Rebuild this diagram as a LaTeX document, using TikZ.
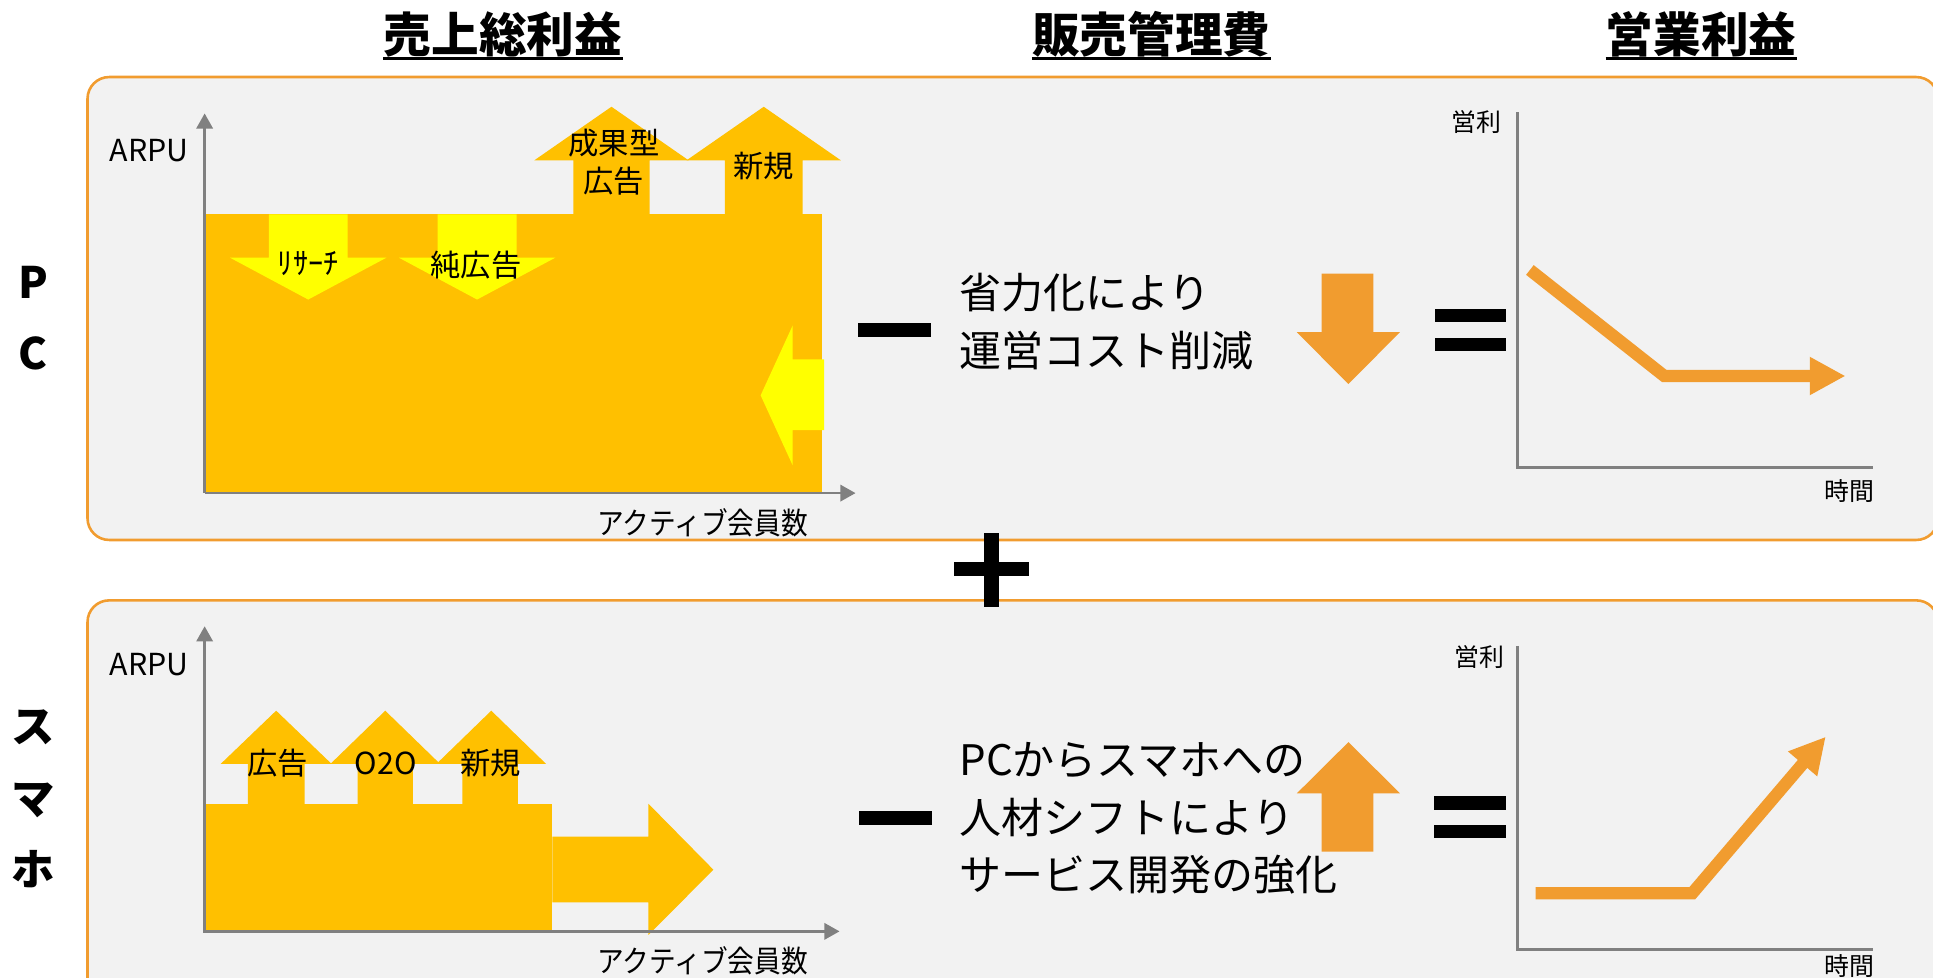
\documentclass[tikz,border=0pt]{standalone}
\usepackage{fontspec}
\setmainfont{Noto Sans CJK JP}
\usetikzlibrary{arrows.meta}

\definecolor{gold}{HTML}{FFC000}
\definecolor{lemon}{HTML}{FFFF00}
\definecolor{orng}{HTML}{F19C2F}
\definecolor{panel}{HTML}{F2F2F2}
\definecolor{axisgray}{HTML}{808080}

\tikzstyle{panelbox} = [draw=orng, fill=panel, line width=1.2pt, rounded corners=10pt]
\tikzstyle{axisline} = [draw=axisgray, line width=1.2pt]
\tikzstyle{axisarrow} = [axisline, -{Triangle[length=7pt,width=7.5pt]}]
\tikzstyle{trend} = [draw=orng, line width=5.7pt, -{Triangle[length=16.5pt,width=16.5pt]}]
\tikzstyle{heading} = [inner sep=0pt, font=\fontsize{22}{26}\selectfont\bfseries]
\tikzstyle{sidelbl} = [inner sep=0pt, align=center, font=\fontsize{20}{33}\selectfont\bfseries]
\tikzstyle{body} = [inner sep=0pt, anchor=west, align=left, font=\fontsize{19.4}{26.5}\selectfont]
\tikzstyle{lbl} = [inner sep=0pt, font=\fontsize{14}{16}\selectfont]
\tikzstyle{narrowlbl} = [lbl, font=\fontsize{14}{16}\selectfont\addfontfeatures{FakeStretch=0.88}]
\tikzstyle{tag} = [inner sep=0pt, font=\fontsize{11.5}{13}\selectfont]
\tikzstyle{uline} = [draw=black, line width=1.2pt]

\begin{document}
\begin{tikzpicture}[x=0.02cm, y=-0.02cm]
		\useasboundingbox (0,0) rectangle (1568,793);
		\clip (0,0) rectangle (1568,793);

		% Ueberschriften
		\node [heading] (ttlgross) at (408,28) {売上総利益};
		\node [heading] (ttlsga) at (934,28) {販売管理費};
		\node [heading] (ttlop) at (1380,28) {営業利益};
		\draw [uline] ([yshift=-0.39cm]ttlgross.west) -- ([yshift=-0.39cm]ttlgross.east);
		\draw [uline] ([yshift=-0.39cm]ttlsga.west) -- ([yshift=-0.39cm]ttlsga.east);
		\draw [uline] ([yshift=-0.39cm]ttlop.west) -- ([yshift=-0.39cm]ttlop.east);

		% Rahmen
		\draw [panelbox] (71,62.5) rectangle (1572,438);
		\draw [panelbox] (71,487) rectangle (1572,840);
		\node [sidelbl] (pc) at (27,258) {P\\C};
		\node [sidelbl] (sp) at (27,648) {ス\\マ\\ホ};

		% Plus
		\fill [black] (774,456) rectangle (835,467);
		\fill [black] (798.5,432) rectangle (810,492);

		% PC: Bruttogewinn
		\fill [gold] (166,174) rectangle (667,400);
		\fill [gold] (465,174) -- (465,130) -- (433.5,130) -- (496,86.6) -- (558.5,130) -- (527,130) -- (527,174) -- cycle;
		\fill [gold] (588,174) -- (588,130) -- (557,130) -- (619.5,86.6) -- (682,130) -- (651,130) -- (651,174) -- cycle;
		\fill [lemon] (218,174) -- (218,209) -- (186.5,209) -- (250,243) -- (313.5,209) -- (282,209) -- (282,174) -- cycle;
		\fill [lemon] (355,174) -- (355,209) -- (323.5,209) -- (387,243) -- (450.5,209) -- (419,209) -- (419,174) -- cycle;
		\fill [lemon] (668.5,291.5) -- (643,291.5) -- (643,264) -- (617,320.7) -- (643,377.5) -- (643,349) -- (668.5,349) -- cycle;
		\draw [axisarrow] (166,400) -- (166,92);
		\draw [axisarrow] (166,400) -- (694,400);
		\node [lbl] (pcarpu) at (121,122) {ARPU};
		\node [narrowlbl] (pcmembers) at (570,424) {アクティブ会員数};
		\node [lbl] (pcperf) at (498,116) {成果型};
		\node [lbl] (pcperfb) at (498,147) {広告};
		\node [lbl] (pcnew) at (619.5,135) {新規};
		\node [lbl] (pcresearch) at (250,214) {ﾘｻｰﾁ};
		\node [lbl] (pcpure) at (386,215) {純広告};

		% PC: Vertriebskosten
		\fill [black] (696,262) rectangle (755,273);
		\node [body] (pcsgatext) at (778,261) {省力化により\\運営コスト削減};
		\fill [orng] (1072,222) -- (1072,269.5) -- (1052,269.5) -- (1093.7,311.5) -- (1135.6,269.5) -- (1114,269.5) -- (1114,222) -- cycle;
		\fill [black] (1164,250.6) rectangle (1222,261.3);
		\fill [black] (1164,273.8) rectangle (1222,284.5);

		% PC: Betriebsgewinn
		\draw [axisline] (1231,91) -- (1231,379) -- (1519,379);
		\node [tag] (pcprofit) at (1198,99) {営利};
		\node [tag] (pctime) at (1500,398) {時間};
		\draw [trend] (1241,219) -- (1350,305) -- (1497,305);

		% Smartphone: Bruttogewinn
		\fill [gold] (165,652) rectangle (448,756.6);
		\fill [gold] (448,678.7) -- (526,678.7) -- (526,652) -- (578.7,705.5) -- (526,758.4) -- (526,732) -- (448,732) -- cycle;
		\fill [gold] (201,652) -- (201,619.7) -- (179,619.7) -- (224,576.5) -- (269,619.7) -- (247,619.7) -- (247,652) -- cycle;
		\fill [gold] (290,652) -- (290,619.7) -- (268,619.7) -- (312.5,576.5) -- (357,619.7) -- (335,619.7) -- (335,652) -- cycle;
		\fill [gold] (375,652) -- (375,619.7) -- (354,619.7) -- (398.5,576.5) -- (443,619.7) -- (420,619.7) -- (420,652) -- cycle;
		\draw [axisarrow] (166,756.6) -- (166,508);
		\draw [axisarrow] (166,755.5) -- (681,755.5);
		\node [lbl] (sparpu) at (121,539) {ARPU};
		\node [narrowlbl] (spmembers) at (570,779) {アクティブ会員数};
		\node [lbl] (spads) at (225,619) {広告};
		\node [lbl] (spoto) at (313,619) {O2O};
		\node [lbl] (spnew) at (398,619) {新規};

		% Smartphone: Vertriebskosten
		\fill [black] (697,657.6) rectangle (756,669);
		\node [body] (spsgatext) at (778,664) {PCからスマホへの\\人材シフトにより\\サービス開発の強化};
		\fill [orng] (1072,690.8) -- (1072,643.5) -- (1052,643.5) -- (1093.8,602) -- (1135.6,643.5) -- (1114,643.5) -- (1114,690.8) -- cycle;
		\fill [black] (1163.5,646) rectangle (1222,657);
		\fill [black] (1163.5,669) rectangle (1222,680);

		% Smartphone: Betriebsgewinn
		\draw [axisline] (1231,524) -- (1231,770) -- (1519,770);
		\node [tag] (spprofit) at (1200,533) {営利};
		\node [tag] (sptime) at (1500,784) {時間};
		\draw [trend] (1245.6,724.6) -- (1372.7,724.6) -- (1481,597.6);
	\end{tikzpicture}
\end{document}
